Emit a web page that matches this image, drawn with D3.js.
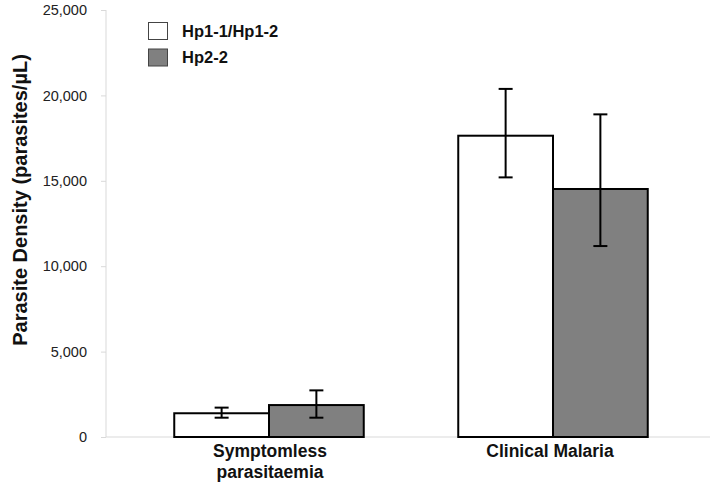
<!DOCTYPE html>
<html><head><meta charset="utf-8">
<script src="https://cdn.jsdelivr.net/npm/d3@7"></script>
<style>body{margin:0;background:#fff}svg{display:block}</style>
</head><body>
<svg id="c" width="710" height="489"></svg>
<script>
const categories = ["Symptomless parasitaemia", "Clinical Malaria"];
const seriesNames = ["Hp1-1/Hp1-2", "Hp2-2"];
const hp1Values = [1390, 17640];
const hp1Lower = [1130, 15200];
const hp1Upper = [1720, 20380];
const hp2Values = [1870, 14520];
const hp2Lower = [1130, 11180];
const hp2Upper = [2730, 18890];
const yTicks = [0, 5000, 10000, 15000, 20000, 25000];
const seriesColors = ["#ffffff", "#808080"];

const svg = d3.select("#c");
const font = "Arial, 'Liberation Sans', sans-serif";

const y = d3.scaleLinear().domain([0, 25000]).range([437, 10]);
const x0 = d3.scaleBand().domain(categories).range([127, 695]).paddingInner(0).paddingOuter(0);
const groupW = 189.5;
const x1 = d3.scaleBand().domain(seriesNames).range([0, groupW]);

// axes
const yAxis = d3.axisLeft(y).tickValues(yTicks).tickSize(5).tickPadding(14)
  .tickFormat(d3.format(","));
const gy = svg.append("g").attr("transform", "translate(106,0)").call(yAxis);
gy.select(".domain").attr("stroke", "#d9d9d9").attr("d", "M0,10V437");
gy.selectAll(".tick line").attr("stroke", "#d9d9d9");
gy.selectAll(".tick text").attr("font-family", font).attr("font-size", 14.5).attr("fill", "#222");

svg.append("line").attr("x1", 106).attr("x2", 710).attr("y1", y(0)).attr("y2", y(0))
  .attr("stroke", "#d9d9d9");

const data = categories.map((c, i) => ({
  cat: c,
  vals: [
    {s: seriesNames[0], v: hp1Values[i], lo: hp1Lower[i], hi: hp1Upper[i], col: seriesColors[0]},
    {s: seriesNames[1], v: hp2Values[i], lo: hp2Lower[i], hi: hp2Upper[i], col: seriesColors[1]}
  ]
}));

const groups = svg.append("g").selectAll("g").data(data).join("g")
  .attr("transform", d => `translate(${x0(d.cat) + x0.bandwidth()/2 - groupW/2},0)`);

groups.selectAll("rect").data(d => d.vals).join("rect")
  .attr("x", d => x1(d.s))
  .attr("y", d => y(d.v))
  .attr("width", x1.bandwidth())
  .attr("height", d => y(0) - y(d.v))
  .attr("fill", d => d.col)
  .attr("stroke", "#000").attr("stroke-width", 2);

const capW = 7;
const eb = groups.selectAll("g.eb").data(d => d.vals).join("g").attr("class", "eb")
  .attr("transform", d => `translate(${x1(d.s) + x1.bandwidth()/2},0)`);
eb.append("line").attr("x1", 0).attr("x2", 0).attr("y1", d => y(d.hi)).attr("y2", d => y(d.lo))
  .attr("stroke", "#000").attr("stroke-width", 2);
eb.append("line").attr("x1", -capW).attr("x2", capW).attr("y1", d => y(d.hi)).attr("y2", d => y(d.hi))
  .attr("stroke", "#000").attr("stroke-width", 2);
eb.append("line").attr("x1", -capW).attr("x2", capW).attr("y1", d => y(d.lo)).attr("y2", d => y(d.lo))
  .attr("stroke", "#000").attr("stroke-width", 2);

// x labels
const xLabelLines = [["Symptomless", "parasitaemia"], ["Clinical Malaria"]];
categories.forEach((c, i) => {
  const t = svg.append("text").attr("text-anchor", "middle")
    .attr("font-family", font).attr("font-weight", "bold").attr("font-size", 17.5).attr("fill", "#111");
  xLabelLines[i].forEach((ln, j) => {
    t.append("tspan").attr("x", x0(c) + x0.bandwidth()/2 + (i === 1 ? -3 : 1)).attr("y", 457 + j*21).text(ln);
  });
});

// y title
svg.append("text").attr("transform", "translate(27,200) rotate(-90)")
  .attr("text-anchor", "middle").attr("font-family", font).attr("font-weight", "bold")
  .attr("font-size", 20).attr("fill", "#111").text("Parasite Density (parasites/µL)");

// legend
const leg = svg.append("g");
seriesNames.forEach((s, i) => {
  leg.append("rect").attr("x", 148.5).attr("y", 22.5 + i*26.5).attr("width", 19).attr("height", 17)
    .attr("fill", seriesColors[i]).attr("stroke", "#444").attr("stroke-width", 1);
  leg.append("text").attr("x", 182).attr("y", 36.7 + i*26.6)
    .attr("font-family", font).attr("font-weight", "bold").attr("font-size", 16.5).attr("fill", "#111").text(s);
});
</script>
</body></html>
